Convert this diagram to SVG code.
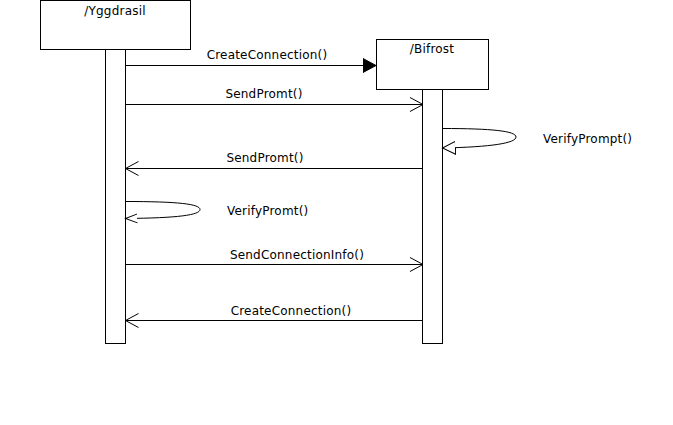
<svg xmlns="http://www.w3.org/2000/svg" width="673" height="425" viewBox="0 0 673 425">
<style>
.box{fill:#fff;stroke:#000;stroke-width:1}
.ln{fill:none;stroke:#000;stroke-width:1}
.t{font-family:"DejaVu Sans",Verdana,sans-serif;font-size:12px;letter-spacing:0.2px;fill:#000}
.m{text-anchor:middle}
</style>
<defs>
<marker id="open" markerWidth="14" markerHeight="16" refX="13" refY="8" orient="auto" markerUnits="userSpaceOnUse">
<path d="M0,1 L13,8 L0,15" fill="none" stroke="#000" stroke-width="1"/>
</marker>
<marker id="filled" markerWidth="14" markerHeight="16" refX="13" refY="8" orient="auto" markerUnits="userSpaceOnUse">
<path d="M0,1 L13,8 L0,15 Z" fill="#000" stroke="#000" stroke-width="1"/>
</marker>
<marker id="tri" markerWidth="14" markerHeight="16" refX="13" refY="8" orient="auto" markerUnits="userSpaceOnUse">
<path d="M0,1.5 L13,8 L0,14.5 Z" fill="#fff" stroke="#000" stroke-width="1"/>
</marker>
<marker id="tri2" markerWidth="14" markerHeight="12" refX="12" refY="6" orient="auto" markerUnits="userSpaceOnUse">
<path d="M0,1.5 L12,6 L0,10.5" fill="#fff" stroke="#000" stroke-width="1"/>
</marker>
</defs>
<rect width="673" height="425" fill="#fff"/>
<g id="yggdrasil">
<rect class="box" x="40.5" y="0.5" width="150" height="49"/>
<text class="t m" x="115" y="15">/Yggdrasil</text>
<rect class="box" x="105.5" y="49.5" width="20" height="294"/>
</g>
<g id="bifrost">
<rect class="box" x="376.5" y="39.5" width="112" height="50"/>
<text class="t m" x="432" y="53">/Bifrost</text>
<rect class="box" x="422.5" y="89.5" width="20" height="254"/>
</g>
<g id="connectors">
<line class="ln" x1="125.5" y1="65.5" x2="376" y2="65.5" marker-end="url(#filled)"/>
<line class="ln" x1="125.5" y1="104.5" x2="423" y2="104.5" marker-end="url(#open)"/>
<path class="ln" d="M442.5,128.5 C492,128.5 516,131 516,137 C516,143 492,147 442.5,148" marker-end="url(#tri)"/>
<line class="ln" x1="422.5" y1="168.5" x2="125.5" y2="168.5" marker-end="url(#open)"/>
<path class="ln" d="M125.5,201.5 C178,201.5 200,204 200,209.5 C200,215 178,218 125.5,218.5" marker-end="url(#tri2)"/>
<line class="ln" x1="125.5" y1="264.5" x2="423" y2="264.5" marker-end="url(#open)"/>
<line class="ln" x1="422.5" y1="320.5" x2="125.5" y2="320.5" marker-end="url(#open)"/>
</g>
<g id="labels">
<text class="t m" x="267" y="59">CreateConnection()</text>
<text class="t m" x="264" y="98">SendPromt()</text>
<text class="t" x="543" y="143">VerifyPrompt()</text>
<text class="t m" x="265" y="162">SendPromt()</text>
<text class="t" x="227" y="215">VerifyPromt()</text>
<text class="t m" x="297" y="259">SendConnectionInfo()</text>
<text class="t m" x="291" y="315">CreateConnection()</text>
</g>
</svg>
